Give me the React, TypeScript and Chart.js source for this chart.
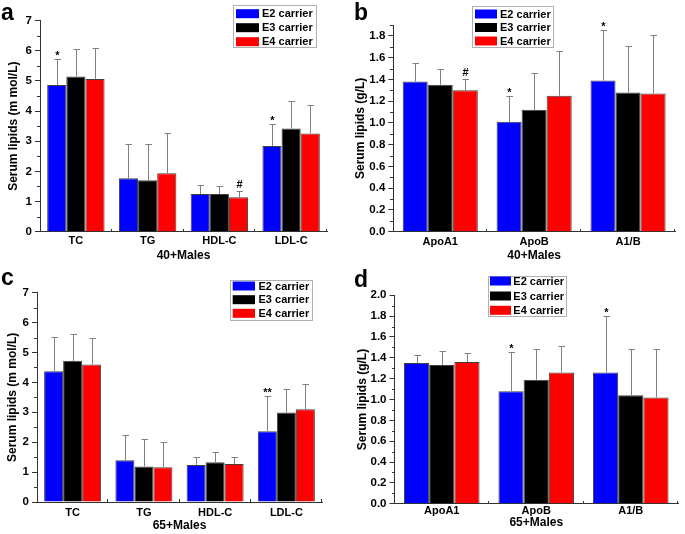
import React, { useEffect, useRef } from 'react';
import { Chart, registerables } from 'chart.js';

Chart.register(...registerables);

// ---------- data ----------
const seriesLabels = ['E2 carrier', 'E3 carrier', 'E4 carrier'];
const seriesColors = ['#0000FF', '#000000', '#FF0000'];

const lipidCats = ['TC', 'TG', 'HDL-C', 'LDL-C'];
const apoCats = ['ApoA1', 'ApoB', 'A1/B'];

// a: 40+ males, lipids (mmol/L)
const aE2 = [4.87, 1.77, 1.25, 2.84];
const aE3 = [5.15, 1.71, 1.25, 3.42];
const aE4 = [5.07, 1.94, 1.14, 3.26];
const aE2Sd = [0.85, 1.14, 0.29, 0.74];
const aE3Sd = [0.92, 1.21, 0.27, 0.91];
const aE4Sd = [1.01, 1.32, 0.21, 0.94];
const aE2Sig = ['*', '', '', '*'];
const aE3Sig = ['', '', '', ''];
const aE4Sig = ['', '', '#', ''];

// b: 40+ males, apolipoproteins (g/L)
const bE2 = [1.38, 1.01, 1.39];
const bE3 = [1.35, 1.12, 1.28];
const bE4 = [1.30, 1.25, 1.27];
const bE2Sd = [0.17, 0.24, 0.46];
const bE3Sd = [0.15, 0.34, 0.43];
const bE4Sd = [0.10, 0.41, 0.54];
const bE2Sig = ['', '*', '*'];
const bE3Sig = ['', '', ''];
const bE4Sig = ['#', '', ''];

// c: 65+ males, lipids (mmol/L)
const cE2 = [4.37, 1.40, 1.24, 2.37];
const cE3 = [4.72, 1.19, 1.33, 2.99];
const cE4 = [4.60, 1.16, 1.27, 3.10];
const cE2Sd = [1.14, 0.83, 0.26, 1.19];
const cE3Sd = [0.91, 0.91, 0.33, 0.79];
const cE4Sd = [0.87, 0.85, 0.25, 0.85];
const cE2Sig = ['', '', '', '**'];
const cE3Sig = ['', '', '', ''];
const cE4Sig = ['', '', '', ''];

// d: 65+ males, apolipoproteins (g/L)
const dE2 = [1.35, 1.08, 1.26];
const dE3 = [1.33, 1.19, 1.04];
const dE4 = [1.36, 1.26, 1.02];
const dE2Sd = [0.08, 0.38, 0.54];
const dE3Sd = [0.14, 0.29, 0.44];
const dE4Sd = [0.09, 0.25, 0.46];
const dE2Sig = ['', '*', '*'];
const dE3Sig = ['', '', ''];
const dE4Sig = ['', '', ''];

// ---------- styling / layout ----------
const FONT = "'Liberation Sans', Arial, Helvetica, sans-serif";
const AXIS = '#333333';
const ERR = '#808080';

type Panel = {
  letter: string;
  letterX: number;
  letterY: number;
  left: number;
  top: number;
  width: number;
  height: number;
  cats: string[];
  means: number[][];
  sds: number[][];
  sigs: string[][];
  yMax: number;
  yStep: number;
  decimals: number;
  yTitle: string;
  xTitle: string;
  area: { left: number; right: number; top: number; bottom: number };
  yTitlePad: number;
  xTitlePad: number;
  xTickPad: number;
  legend: { x: number; y: number; w: number; h: number; rows: number[]; swX: number; swW: number; swH: number; textX: number };
};

const panels: Panel[] = [
  {
    letter: 'a', letterX: 1, letterY: 20,
    left: 0, top: 0, width: 342, height: 267,
    cats: lipidCats, means: [aE2, aE3, aE4], sds: [aE2Sd, aE3Sd, aE4Sd], sigs: [aE2Sig, aE3Sig, aE4Sig],
    yMax: 7, yStep: 1, decimals: 0,
    yTitle: 'Serum lipids (m mol/L)', xTitle: '40+Males',
    area: { left: 40, right: 327, top: 20.7, bottom: 231.7 },
    yTitlePad: 6.8, xTitlePad: 3.8, xTickPad: 3,
    legend: { x: 233, y: 5, w: 83, h: 42, rows: [13.7, 27.7, 41.7], swX: 236, swW: 23, swH: 9, textX: 262 },
  },
  {
    letter: 'b', letterX: 12, letterY: 20,
    left: 342, top: 0, width: 343, height: 267,
    cats: apoCats, means: [bE2, bE3, bE4], sds: [bE2Sd, bE3Sd, bE4Sd], sigs: [bE2Sig, bE3Sig, bE4Sig],
    yMax: 1.9, yStep: 0.2, decimals: 1,
    yTitle: 'Serum lipids (g/L)', xTitle: '40+Males',
    area: { left: 51.3, right: 333, top: 25, bottom: 231.7 },
    yTitlePad: 11.8, xTitlePad: 3.8, xTickPad: 3.5,
    legend: { x: 130, y: 6, w: 81, h: 41, rows: [14, 27.5, 41], swX: 133, swW: 22, swH: 9, textX: 158 },
  },
  {
    letter: 'c', letterX: 1, letterY: 18,
    left: 0, top: 267, width: 342, height: 267,
    cats: lipidCats, means: [cE2, cE3, cE4], sds: [cE2Sd, cE3Sd, cE4Sd], sigs: [cE2Sig, cE3Sig, cE4Sig],
    yMax: 7, yStep: 1, decimals: 0,
    yTitle: 'Serum lipids (m mol/L)', xTitle: '65+Males',
    area: { left: 37, right: 322, top: 25.7, bottom: 235 },
    yTitlePad: 5.3, xTitlePad: 1.5, xTickPad: 4,
    legend: { x: 230, y: 13.3, w: 82, h: 39.5, rows: [19, 32.7, 46.3], swX: 232.7, swW: 22.3, swH: 9, textX: 258.5 },
  },
  {
    letter: 'd', letterX: 12, letterY: 20,
    left: 342, top: 267, width: 343, height: 267,
    cats: apoCats, means: [dE2, dE3, dE4], sds: [dE2Sd, dE3Sd, dE4Sd], sigs: [dE2Sig, dE3Sig, dE4Sig],
    yMax: 2.0, yStep: 0.2, decimals: 1,
    yTitle: 'Serum lipids (g/L)', xTitle: '65+Males',
    area: { left: 52.5, right: 336, top: 28.3, bottom: 236.7 },
    yTitlePad: 13.8, xTitlePad: 4.5, xTickPad: 1,
    legend: { x: 146.3, y: 9.3, w: 78.4, h: 40.2, rows: [14, 29, 43.3], swX: 148, swW: 21, swH: 9, textX: 171.3 },
  },
];

const decorPlugin = {
  id: 'decor',
  afterDatasetsDraw(chart: any) {
    const ctx = chart.ctx;
    const ys = chart.scales.y;
    ctx.save();
    // error bars + significance marks
    chart.data.datasets.forEach((ds: any, i: number) => {
      const meta = chart.getDatasetMeta(i);
      meta.data.forEach((bar: any, j: number) => {
        const x = Math.round(bar.x) + 0.5;
        const yTop = ys.getPixelForValue(ds.data[j] + ds.sd[j]);
        const yCap = Math.round(yTop) + 0.5;
        ctx.strokeStyle = ERR;
        ctx.lineWidth = 1;
        ctx.beginPath();
        ctx.moveTo(x, bar.y);
        ctx.lineTo(x, yCap);
        ctx.moveTo(x - 3, yCap);
        ctx.lineTo(x + 3.5, yCap);
        ctx.stroke();
        const s = ds.sig[j];
        if (s) {
          ctx.fillStyle = '#000';
          ctx.font = `bold 11px ${FONT}`;
          ctx.textAlign = 'center';
          ctx.textBaseline = 'alphabetic';
          ctx.fillText(s, x, yTop - (s === '#' ? 3 : 0));
        }
      });
    });
    ctx.restore();
  },
  afterDraw(chart: any, _args: any, opts: any) {
    const ctx = chart.ctx;
    const ys = chart.scales.y;
    const xs = chart.scales.x;
    const area = chart.chartArea;
    ctx.save();
    ctx.strokeStyle = AXIS;
    ctx.lineWidth = 1;
    // minor y ticks
    const step = opts.yStep;
    ctx.beginPath();
    for (let k = 0; k * step + step / 2 < opts.yMax + 1e-9; k++) {
      const v = k * step + step / 2;
      const py = Math.round(ys.getPixelForValue(v)) + 0.5;
      ctx.moveTo(Math.round(area.left) - 3, py);
      ctx.lineTo(Math.round(area.left), py);
    }
    // x ticks at category boundaries (inward)
    const n = xs.getLabels().length;
    const w = (xs.right - xs.left) / n;
    for (let k = 1; k <= n; k++) {
      const px = Math.round(xs.left + k * w) - 0.5;
      ctx.moveTo(px, Math.round(area.bottom));
      ctx.lineTo(px, Math.round(area.bottom) - 3);
    }
    ctx.stroke();

    // legend
    const L = opts.legend;
    ctx.fillStyle = '#ffffff';
    ctx.fillRect(L.x, L.y, L.w, L.h);
    ctx.strokeStyle = '#b0b0b0';
    ctx.strokeRect(Math.round(L.x) + 0.5, Math.round(L.y) + 0.5, Math.round(L.w), Math.round(L.h));
    chart.data.datasets.forEach((ds: any, i: number) => {
      const cy = L.rows[i];
      ctx.fillStyle = ds.backgroundColor;
      ctx.fillRect(L.swX, cy - L.swH / 2, L.swW, L.swH);
      ctx.fillStyle = '#000';
      ctx.font = `bold 11px ${FONT}`;
      ctx.textAlign = 'left';
      ctx.textBaseline = 'middle';
      ctx.fillText(ds.label, L.textX, cy + 0.5);
    });

    // panel letter
    ctx.fillStyle = '#000';
    ctx.font = `bold 23px ${FONT}`;
    ctx.textAlign = 'left';
    ctx.textBaseline = 'alphabetic';
    ctx.fillText(opts.letter, opts.letterX, opts.letterY);
    ctx.restore();
  },
};

function PanelChart({ p }: { p: Panel }) {
  const ref = useRef<HTMLCanvasElement | null>(null);
  useEffect(() => {
    if (!ref.current) return;
    const chart = new Chart(ref.current, {
      type: 'bar',
      data: {
        labels: p.cats,
        datasets: seriesLabels.map((label, i) => ({
          label,
          data: p.means[i],
          sd: p.sds[i],
          sig: p.sigs[i],
          backgroundColor: seriesColors[i],
          borderColor: 'rgba(0,0,0,0.75)',
          borderWidth: 1,
          borderSkipped: 'start',
          categoryPercentage: 0.8,
          barPercentage: 1.0,
        })) as any,
      },
      options: {
        responsive: false,
        animation: false,
        events: [],
        layout: {
          padding: { left: 0, top: p.area.top, right: p.width - p.area.right, bottom: 0 },
        },
        plugins: {
          legend: { display: false },
          tooltip: { enabled: false },
          decor: {
            yStep: p.yStep,
            yMax: p.yMax,
            legend: p.legend,
            letter: p.letter,
            letterX: p.letterX,
            letterY: p.letterY,
          },
        } as any,
        scales: {
          x: {
            type: 'category',
            offset: true,
            grid: { display: false, drawTicks: false },
            border: { display: true, color: AXIS, width: 1 },
            ticks: {
              color: '#000',
              font: { family: FONT, size: 11, weight: 'bold' },
              padding: p.xTickPad,
              maxRotation: 0,
              autoSkip: false,
            },
            title: {
              display: true,
              text: p.xTitle,
              color: '#000',
              font: { family: FONT, size: 12, weight: 'bold' },
              padding: { top: 0, bottom: p.xTitlePad },
            },
            afterFit: (s: any) => {
              s.height = p.height - p.area.bottom;
            },
          },
          y: {
            min: 0,
            max: p.yMax,
            grid: {
              display: true,
              drawOnChartArea: false,
              drawTicks: true,
              tickLength: 5,
              color: AXIS,
              tickColor: AXIS,
            },
            border: { display: true, color: AXIS, width: 1 },
            ticks: {
              stepSize: p.yStep,
              includeBounds: false,
              color: '#000',
              font: { family: FONT, size: 11.5, weight: 'bold' },
              padding: 3,
              callback: (v: any) => Number(v).toFixed(p.decimals),
            },
            title: {
              display: true,
              text: p.yTitle,
              color: '#000',
              font: { family: FONT, size: 12, weight: 'bold' },
              padding: { top: p.yTitlePad, bottom: 0 },
            },
            afterFit: (s: any) => {
              s.width = p.area.left;
            },
          },
        } as any,
      },
      plugins: [decorPlugin as any],
    });
    return () => chart.destroy();
  }, []);
  return (
    <canvas
      ref={ref}
      width={p.width}
      height={p.height}
      style={{ position: 'absolute', left: p.left, top: p.top, width: p.width, height: p.height, display: 'block' }}
    />
  );
}

export default function App() {
  return (
    <div style={{ position: 'absolute', left: 0, top: 0, width: 685, height: 534, background: '#ffffff', overflow: 'hidden' }}>
      {panels.map((p) => (
        <PanelChart key={p.letter} p={p} />
      ))}
    </div>
  );
}
